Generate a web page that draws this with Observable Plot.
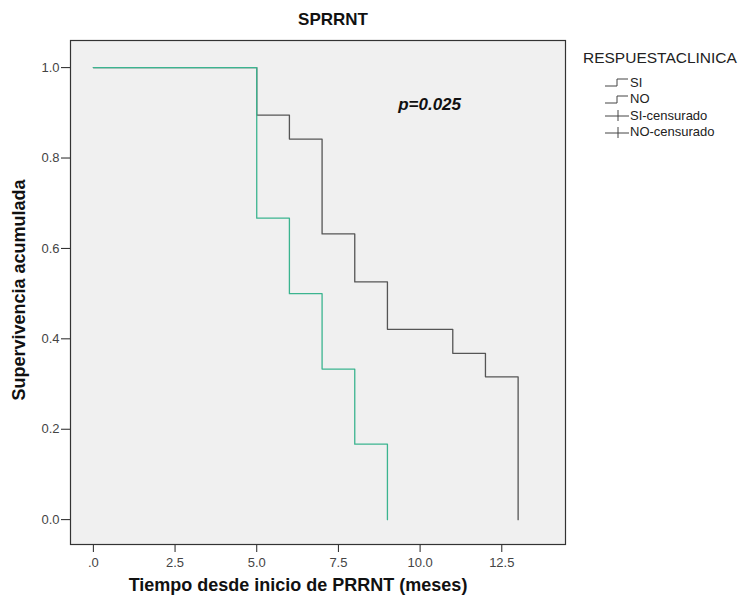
<!DOCTYPE html>
<html><head><meta charset="utf-8">
<script src="https://cdn.jsdelivr.net/npm/d3@7"></script>
<script src="https://cdn.jsdelivr.net/npm/@observablehq/plot@0.6"></script>
<style>
body{margin:0;background:#fff;font-family:"Liberation Sans",Arial,sans-serif;}
#wrap{position:relative;width:748px;height:598px;}
#title{position:absolute;left:0;width:666px;top:10px;text-align:center;font-weight:bold;font-size:17px;line-height:1.15;color:#111;}
#legend{position:absolute;left:583px;top:49px;color:#222;}
#legend .h{font-size:15.5px;margin-bottom:7px;}
#legend .r{display:flex;align-items:center;height:16.5px;font-size:13px;}
</style></head><body>
<div id="wrap"><div id="title">SPRRNT</div><div id="legend"></div></div>
<script>
const seriesNames = ["SI", "NO"];
const siTimes = [0, 5, 6, 7, 8, 9, 11, 12, 13];
const siSurv = [1, 0.895, 0.842, 0.632, 0.526, 0.421, 0.368, 0.316, 0];
const noTimes = [0, 5, 6, 7, 8, 9];
const noSurv = [1, 0.667, 0.5, 0.333, 0.167, 0];
const xTicks = [0, 2.5, 5, 7.5, 10, 12.5];
const yTicks = [0, 0.2, 0.4, 0.6, 0.8, 1.0];
const legendItems = ["SI", "NO", "SI-censurado", "NO-censurado"];
const pText = "p=0.025";

const si = siTimes.map((t, i) => ({t, s: siSurv[i], g: "SI"}));
const no = noTimes.map((t, i) => ({t, s: noSurv[i], g: "NO"}));

const xfmt = d => d === 0 ? ".0" : d.toFixed(1);
const chart = Plot.plot({
  width: 748, height: 598,
  marginLeft: 70, marginRight: 183, marginTop: 40, marginBottom: 54,
  style: {fontFamily: "Liberation Sans, Arial, sans-serif", fontSize: "13px", color: "#333", background: "transparent"},
  x: {domain: [-0.7, 14.45], label: null},
  y: {domain: [-0.055, 1.06], label: null},
  marks: [
    Plot.frame({fill: "#f0f0f0", stroke: null}),
    Plot.axisX({ticks: xTicks, tickFormat: xfmt, tickSize: 8, tickPadding: 5, stroke: "#222", fill: "#444", fontSize: 13}),
    Plot.axisY({ticks: yTicks, tickFormat: d => d.toFixed(1), tickSize: 9, tickPadding: 2, stroke: "#222", fill: "#444", fontSize: 13}),
    Plot.lineY(si, {x: "t", y: "s", curve: "step-after", stroke: "#555", strokeWidth: 1.3}),
    Plot.lineY(no, {x: "t", y: "s", curve: "step-after", stroke: "#3bb48f", strokeWidth: 1.3}),
    Plot.text([pText], {x: 10.29, y: 0.918, text: d => d, fontSize: 17, fontWeight: "bold", fontStyle: "italic", fill: "#111", textAnchor: "middle"}),
    Plot.frame({stroke: "#333", strokeWidth: 1.2})
  ]
});
document.getElementById("wrap").prepend(chart);
chart.style.position = "absolute"; chart.style.left = "0"; chart.style.top = "0";

// axis titles
const svg = d3.select(chart);
svg.append("text").attr("x", 298).attr("y", 591).attr("text-anchor", "middle")
  .attr("font-weight", "bold").attr("font-size", 18).attr("fill", "#111").text("Tiempo desde inicio de PRRNT (meses)");
svg.append("text").attr("transform", "translate(25,290) rotate(-90)").attr("text-anchor", "middle")
  .attr("font-weight", "bold").attr("font-size", 18).attr("fill", "#111").text("Supervivencia acumulada");

// legend
const lg = d3.select("#legend");
lg.append("div").attr("class", "h").text("RESPUESTACLINICA");
legendItems.forEach((name, i) => {
  const r = lg.append("div").attr("class", "r");
  const s = r.append("svg").attr("width", 46).attr("height", 12);
  if (i < 2) {
    s.append("path").attr("d", "M22,10H34V3H45").attr("fill", "none").attr("stroke", "#444").attr("stroke-width", 1);
  } else {
    s.append("path").attr("d", "M22,7H46M35,1V12").attr("fill", "none").attr("stroke", "#444").attr("stroke-width", 1);
  }
  r.append("span").text(name).style("margin-left", "1px");
});
</script></body></html>
